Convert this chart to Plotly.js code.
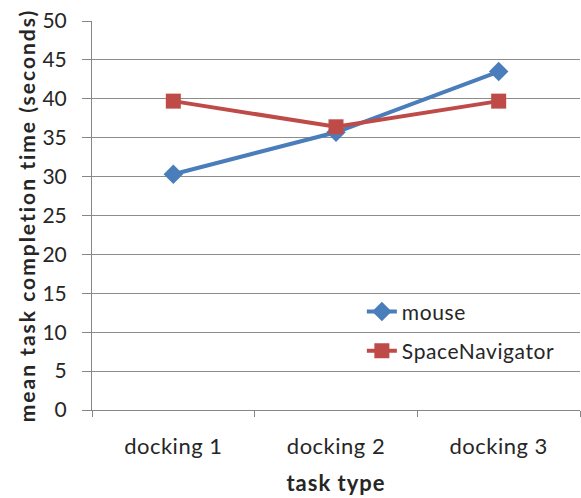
<!DOCTYPE html>
<html><head><meta charset="utf-8">
<script src="https://cdn.plot.ly/plotly-3.0.1.min.js"></script>
<style>html,body{margin:0;padding:0;background:#fff;}#chart{width:581px;height:498px;}
.legendtext{letter-spacing:0.6px;}
.ytitle{letter-spacing:2px;}
.xtitle{letter-spacing:1px;}
.xtick text{letter-spacing:0.5px;}
</style>
</head><body><div id="chart"></div>
<script>
const categories = ["docking 1", "docking 2", "docking 3"];
const mouseValues = [30.3, 35.7, 43.5];
const spaceNavValues = [39.7, 36.4, 39.7];
const seriesNames = ["mouse", "SpaceNavigator"];
const yTicks = [0, 5, 10, 15, 20, 25, 30, 35, 40, 45, 50];

const font = "Lato, 'Liberation Sans', sans-serif";
const traces = [
  {x: categories, y: mouseValues, name: seriesNames[0], type: "scatter", mode: "lines+markers",
   legendgroup: "a",
   line: {color: "#4A7EBB", width: 4}, marker: {symbol: "diamond", size: 15, color: "#4A7EBB"}},
  {x: categories, y: spaceNavValues, name: seriesNames[1], type: "scatter", mode: "lines+markers",
   legendgroup: "b",
   line: {color: "#BE4B48", width: 4}, marker: {symbol: "square", size: 15, color: "#BE4B48"}}
];
const layout = {
  width: 581, height: 498,
  margin: {l: 92, r: 1, t: 21, b: 88},
  paper_bgcolor: "#fff", plot_bgcolor: "#fff",
  font: {family: font, color: "#262626", size: 16},
  showlegend: true,
  legend: {x: 0.553, y: 0.305, xanchor: "left", yanchor: "top", bgcolor: "rgba(0,0,0,0)",
           font: {size: 21, family: font}, traceorder: "grouped", tracegroupgap: 9},
  xaxis: {type: "category", range: [-0.5, 2.5], tickson: "boundaries", ticks: "outside", ticklen: 6,
          tickcolor: "#868686", showline: true, linecolor: "#868686", linewidth: 1,
          showgrid: false, zeroline: false, ticklabelstandoff: 17,
          tickfont: {size: 22, family: font},
          title: {text: "<b>task type</b>", font: {size: 22, family: font}, standoff: 17}},
  yaxis: {range: [0, 50], tickvals: yTicks, ticks: "outside", ticklen: 9, tickcolor: "#868686",
          showline: true, linecolor: "#868686", linewidth: 1,
          showgrid: true, gridcolor: "#8C8C8C", gridwidth: 1, zeroline: false,
          ticklabelstandoff: 11, tickfont: {size: 21, family: font},
          title: {text: "<b>mean task completion time (seconds)</b>", font: {size: 21, family: font}, standoff: 1}}
};
Plotly.newPlot("chart", traces, layout, {displayModeBar: false, staticPlot: true});
</script></body></html>
